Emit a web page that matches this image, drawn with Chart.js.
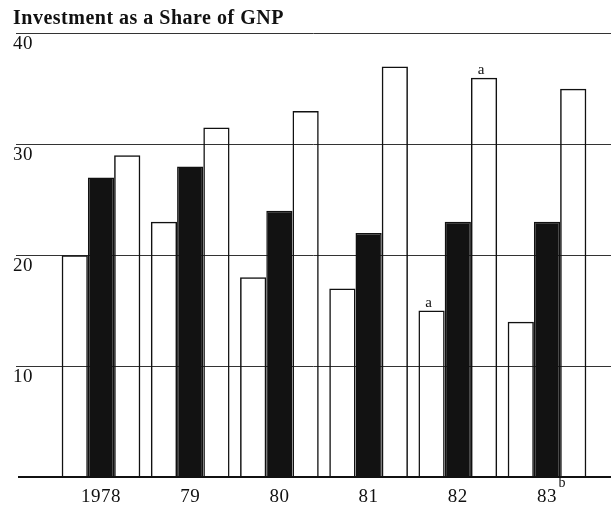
<!DOCTYPE html>
<html>
<head>
<meta charset="utf-8">
<script src="https://cdn.jsdelivr.net/npm/chart.js@4.4.1/dist/chart.umd.min.js"></script>
<style>
  html, body { margin: 0; padding: 0; background: #fff; }
  #wrap { width: 611px; height: 506px; }
</style>
</head>
<body>
<div id="wrap"><canvas id="c" width="611" height="506"></canvas></div>
<script>
// ---- data ----
const titleText = 'Investment as a Share of GNP';
const categories = ['1978', '79', '80', '81', '82', '83'];
const seriesLeft = [20, 23, 18, 17, 15, 14];      // left open bar
const seriesMiddle = [27, 28, 24, 22, 23, 23];    // middle solid bar
const seriesRight = [29, 31.5, 33, 37, 36, 35];   // right open bar
const yTickValues = [10, 20, 30, 40];
const barNotes = [ { dataset: 0, index: 4, text: 'a' }, { dataset: 2, index: 4, text: 'a' } ];
const tickNotes = [ { index: 5, text: 'b' } ];

const SERIF = '"Liberation Serif", "DejaVu Serif", serif';
const INK = '#111';

const fullGrid = {
  id: 'fullGrid',
  beforeDraw(chart) {
    chart.ctx.letterSpacing = '0.5px';
  },
  beforeDatasetsDraw(chart) {
    const { ctx, scales: { y } } = chart;
    ctx.letterSpacing = '0px';
    ctx.save();
    ctx.strokeStyle = '#333';
    ctx.lineWidth = 1;
    yTickValues.forEach(v => {
      const py = Math.round(y.getPixelForValue(v)) + 0.5;
      ctx.beginPath();
      ctx.moveTo(16, py);
      ctx.lineTo(chart.width, py);
      ctx.stroke();
    });
    ctx.restore();
  },
  afterDatasetsDraw(chart) {
    const { ctx, scales: { x, y } } = chart;
    ctx.save();
    // baseline
    const py = y.getPixelForValue(0);
    ctx.strokeStyle = INK;
    ctx.lineWidth = 2;
    ctx.beginPath();
    ctx.moveTo(18, py);
    ctx.lineTo(chart.width, py);
    ctx.stroke();
    // bar notes
    ctx.fillStyle = INK;
    ctx.font = '15px ' + SERIF;
    ctx.textAlign = 'center';
    ctx.textBaseline = 'alphabetic';
    barNotes.forEach(n => {
      const el = chart.getDatasetMeta(n.dataset).data[n.index];
      ctx.fillText(n.text, el.x - 3, el.y - 4);
    });
    // tick notes
    ctx.font = '19px ' + SERIF;
    tickNotes.forEach(n => {
      const w = ctx.measureText(categories[n.index]).width;
      const tx = x.getPixelForValue(n.index) + w / 2 + 2;
      ctx.save();
      ctx.font = '14px ' + SERIF;
      ctx.textAlign = 'left';
      ctx.fillText(n.text, tx, py + 10);
      ctx.restore();
    });
    ctx.restore();
  }
};

const barCommon = {
  borderColor: INK,
  borderWidth: 1.5,
  borderSkipped: 'bottom',
  barPercentage: 1.0,
  categoryPercentage: 0.882
};

new Chart(document.getElementById('c'), {
  type: 'bar',
  data: {
    labels: categories,
    datasets: [
      Object.assign({ label: 'left', data: seriesLeft, backgroundColor: 'rgba(255,255,255,0)' }, barCommon),
      Object.assign({ label: 'middle', data: seriesMiddle, backgroundColor: '#121212' }, barCommon),
      Object.assign({ label: 'right', data: seriesRight, backgroundColor: 'rgba(255,255,255,0)' }, barCommon)
    ]
  },
  options: {
    responsive: false,
    animation: false,
    layout: { padding: { left: 13, right: 19.4, top: 0, bottom: 0 } },
    plugins: {
      legend: { display: false },
      tooltip: { enabled: false },
      title: {
        display: true,
        text: titleText,
        align: 'start',
        color: INK,
        font: { family: SERIF, size: 20, weight: 'bold', lineHeight: 1.2 },
        padding: { top: 7.3, bottom: 2 }
      }
    },
    scales: {
      x: {
        grid: { display: false, drawTicks: false },
        border: { display: false },
        ticks: { color: INK, font: { family: SERIF, size: 19 }, padding: 9, maxRotation: 0 },
        afterFit(s) { s.height = 29; }
      },
      y: {
        min: 0,
        max: 40,
        grid: { display: false, drawTicks: false },
        border: { display: false },
        afterBuildTicks(s) { s.ticks = yTickValues.map(v => ({ value: v })); },
        ticks: { color: INK, font: { family: SERIF, size: 19 }, crossAlign: 'far', labelOffset: 11, padding: 0 },
        afterFit(s) { s.width = 43.4; }
      }
    }
  },
  plugins: [fullGrid]
});
</script>
</body>
</html>
